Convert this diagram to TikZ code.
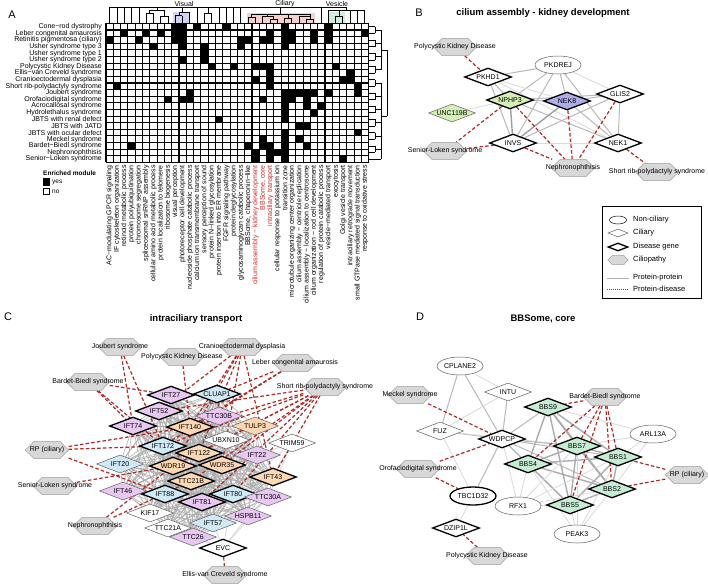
\documentclass[tikz,border=0pt]{standalone}
\usepackage{fontspec}
\setmainfont{Liberation Sans}
\usetikzlibrary{shapes.geometric,backgrounds}
\definecolor{hexfill}{HTML}{D8D8D8}
\definecolor{hexdraw}{HTML}{A0A0A0}
\definecolor{pinkf}{HTML}{E8C8F2}
\definecolor{bluef}{HTML}{CFE9F7}
\definecolor{peachf}{HTML}{FCD7B2}
\definecolor{greenB}{HTML}{D5F0B5}
\definecolor{greenD}{HTML}{C6ECD3}
\definecolor{purpB}{HTML}{ADADEA}
\definecolor{dred}{HTML}{B02A26}
\definecolor{lblred}{HTML}{CC2B27}
\definecolor{boxpurp}{HTML}{D2D2F2}
\definecolor{boxpink}{HTML}{F6D0D0}
\definecolor{boxgreen}{HTML}{CDEEDD}
\tikzset{
 fs/.style={font=\fontsize{7}{8}\selectfont},
 gene/.style={diamond, draw=gray!75!black, line width=0.5pt, fill=white, minimum width=47pt, minimum height=18pt, inner sep=0pt, label={[fs, inner sep=0pt]center:#1}},
 dgene/.style={gene=#1, draw=black, line width=1.3pt},
 nonc/.style={ellipse, draw=gray!75!black, line width=0.5pt, fill=white, minimum width=46pt, minimum height=18pt, inner sep=0pt, fs},
 hexbox/.style={rectangle, minimum width=43pt, minimum height=17pt, inner sep=0pt},
 hexshape/.style={draw=hexdraw, fill=hexfill, line width=0.5pt},
 hl/.style={fs, inner sep=0pt},
 pp/.style={gray!55, line width=1pt},
 ppl/.style={gray!30, line width=0.8pt},
 ppd/.style={gray!75, line width=1.4pt},
 mesh/.style={gray!65, line width=0.7pt, opacity=0.85},
 pd/.style={dred, line width=1.2pt, dash pattern=on 3.5pt off 2.2pt},
 rowlbl/.style={anchor=east, inner sep=0pt, font=\fontsize{7}{8}\selectfont},
 collbl/.style={anchor=east, rotate=90, inner sep=0pt, font=\fontsize{7}{8}\selectfont},
 ttl/.style={font=\fontsize{9.5}{11}\selectfont\bfseries, inner sep=0pt},
 panel/.style={font=\fontsize{11}{13}\selectfont, inner sep=0pt},
 grp/.style={font=\fontsize{7}{8}\selectfont, inner sep=0pt},
 dend/.style={line width=0.6pt, black},
 gridl/.style={line width=1.1pt, black},
 leg/.style={anchor=west, inner sep=0pt, font=\fontsize{7.5}{9}\selectfont},
}
\newcommand{\hexnd}[4]{%
  \node[hexbox] (#1) at (#2,#3) {};
  \path[hexshape] (#1.west) -- ([xshift=9pt]#1.north west) -- ([xshift=-9pt]#1.north east) -- (#1.east)
    -- ([xshift=-9pt]#1.south east) -- ([xshift=9pt]#1.south west) -- cycle;
  \node[hl] (#1-t) at (#1.center) {#4};}
\begin{document}
\begin{tikzpicture}[x=1pt,y=-1pt]
\useasboundingbox (0,0) rectangle (708,584);
\begin{pgfonlayer}{background}
\fill[white] (0,0) rectangle (708,584);
\end{pgfonlayer}
% ================= PANEL A =================
\node[panel] (pA) at (12,15) {A};
\def\Xo{106}\def\Yo{23.4}\def\cw{7.3}\def\rh{6.62}
\fill[boxpurp] (172.5,12) rectangle (190,23.4);
\fill[boxpink] (246.5,12.5) rectangle (315,23.4);
\fill[boxgreen] (328,12) rectangle (344.5,23.4);
\node[grp] (gVis) at (184,4) {Visual};
\node[grp] (gCil) at (285,4) {Ciliary};
\node[grp] (gVes) at (337,4) {Vesicle};
\draw[dend] (109.6,7) -- (346,7);
\foreach \x in {109.6,116.9,124.2,131.5,138.8,197.0,218.8,233.4,240.7,320.8}{\draw[dend] (\x,7) -- (\x,23.4);}
\draw[dend] (157,7) -- (157,10) (149.7,10) -- (164.2,10) (149.7,10) -- (149.7,13) (146,13) -- (153.3,13)
  (146,13) -- (146,23.4) (153.3,13) -- (153.3,23.4) (164.2,10) -- (164.2,16) (160.6,16) -- (167.9,16)
  (160.6,16) -- (160.6,23.4) (167.9,16) -- (167.9,23.4);
\draw[dend] (182,7) -- (182,12) (178.8,12) -- (189.7,12) (189.7,12) -- (189.7,23.4) (178.8,12) -- (178.8,15.5)
  (175.2,15.5) -- (182.4,15.5) (175.2,15.5) -- (175.2,23.4) (182.4,15.5) -- (182.4,23.4);
\draw[dend] (207.9,7) -- (207.9,13) (204.3,13) -- (211.6,13) (204.3,13) -- (204.3,23.4) (211.6,13) -- (211.6,23.4);
\draw[dend] (226.1,7) -- (226.1,23.4);
\draw[dend] (280.7,7) -- (280.7,14) (251.6,14) -- (309.8,14)
  (251.6,14) -- (251.6,17) (248,17) -- (255.2,17) (248,17) -- (248,23.4) (255.2,17) -- (255.2,23.4)
  (267,14) -- (267,16) (262.5,16) -- (273.4,16) (262.5,16) -- (262.5,23.4) (273.4,16) -- (273.4,19)
  (269.8,19) -- (277.1,19) (269.8,19) -- (269.8,23.4) (277.1,19) -- (277.1,23.4)
  (288,14) -- (288,18) (284.4,18) -- (291.6,18) (284.4,18) -- (284.4,23.4) (291.6,18) -- (291.6,23.4)
  (309.8,14) -- (309.8,16) (298.9,16) -- (309.8,16) (298.9,16) -- (298.9,23.4) (309.8,16) -- (309.8,19)
  (306.2,19) -- (313.5,19) (306.2,19) -- (306.2,23.4) (313.5,19) -- (313.5,23.4);
\draw[dend] (346,7) -- (346,10) (328,10) -- (364.4,10) (328,10) -- (328,23.4)
  (339,10) -- (339,16) (335.3,16) -- (342.6,16) (335.3,16) -- (335.3,23.4) (342.6,16) -- (342.6,23.4)
  (349.9,10) -- (349.9,23.4) (357.2,10) -- (357.2,23.4) (364.4,10) -- (364.4,23.4);
\foreach \r/\cl in {1/{10,11,13,17,25,31},2/{3,6,8,10,11,23,25,26,29,31,36},3/{1,5,10,11,19,20,22,23,25,26,29,31},
  4/{7,11,14,19,25},5/{14},6/{11,14},7/{15,18,21,22,23,32},8/{23,34},9/{21,23,33,34},10/{2,23,35},
  11/{12,25,26,27,28,29,31,35},12/{9,11,12,22,25,26,28},13/{25,28,30},14/{25,29},15/{16,25},16/{27,28},
  17/{25,35},18/{22,25,27},19/{4,20,22,23,25,28},20/{21,23,24,25},21/{21,23,25,33}}{
  \foreach \c in \cl {\fill ({\Xo+(\c-1)*\cw},{\Yo+(\r-1)*\rh}) rectangle ++(\cw,\rh);}
}
\foreach \i in {0,...,36}{\draw[gridl] ({\Xo+\i*\cw},\Yo) -- ++(0,{21*\rh});}
\foreach \j in {0,...,21}{\draw[gridl] (\Xo,{\Yo+\j*\rh}) -- ++({36*\cw},0);}
\foreach \j in {1,...,21}{\draw[dend] (369,{\Yo+(\j-0.5)*\rh}) -- (375,{\Yo+(\j-0.5)*\rh});}
\foreach \j in {1,3,...,19}{\draw[dend] (375,{\Yo+(\j-0.5)*\rh}) -- (375,{\Yo+(\j+0.5)*\rh}) (375,{\Yo+\j*\rh}) -- (381,{\Yo+\j*\rh});}
\draw[dend] (375,{\Yo+20.5*\rh}) -- (381,{\Yo+20.5*\rh});
\draw[dend] (381,{\Yo+1*\rh}) -- (381,{\Yo+7*\rh}) (381,{\Yo+9*\rh}) -- (381,{\Yo+20.5*\rh})
  (381,{\Yo+4*\rh}) -- (387,{\Yo+4*\rh}) (381,{\Yo+14*\rh}) -- (387,{\Yo+14*\rh}) (387,{\Yo+4*\rh}) -- (387,{\Yo+14*\rh});
\foreach \t [count=\j] in {Cone−rod dystrophy,Leber congenital amaurosis,Retinitis pigmentosa (ciliary),Usher syndrome type 3,Usher syndrome type 1,Usher syndrome type 2,Polycystic Kidney Disease,Ellis−van Creveld syndrome,Cranioectodermal dysplasia,Short rib-polydactyly syndrome,Joubert syndrome,Orofaciodigital syndrome,Acrocallosal syndrome,Hydrolethalus syndrome,JBTS with renal defect,JBTS with JATD,JBTS with ocular defect,Meckel syndrome,Bardet−Biedl syndrome,Nephronophthisis,Senior−Loken syndrome}{
  \node[rowlbl] (rl\j) at (102,{\Yo+(\j-0.5)*\rh}) {\t};}
\foreach \t [count=\i] in {AC−modulating GPCR signaling,IF cytoskeleton organization,retinoid metabolic process,protein polyubiquitination,chromosome segregation,spliceosomal snRNP assembly,cellular amino acid metabolic process,protein localization to telomere,ribosome biogenesis,visual perception,photoreceptor cell development,nucleoside phosphate catabolic process,calcium ion transmembrane transport,sensory perception of sound,protein N−linked glycosylation,protein insertion into ER membrane,FGFR signaling pathway,protein deglycosylation,glycosaminoglycan catabolic process,{BBSome, chaperonin−like},cilium assembly − kidney development,{BBSome, core},intraciliary transport,cellular response to potassium ion,transition zone,microtubule organizing center organization,cilium assembly − centriole replication,cilium assembly − localization to centrosome,cilium organization − rod cell development,regulation of protein catabolic process,vesicle−mediated transport,exocytosis,Golgi vesicle transport,intraciliary retrograde movement,small GTPase mediated signal transduction,response to oxidative stress}{
  \ifnum\i>20 \ifnum\i<24
    \node[collbl, text=lblred] (cl\i) at ({\Xo+(\i-0.5)*\cw},165) {\t};
  \else \node[collbl] (cl\i) at ({\Xo+(\i-0.5)*\cw},165) {\t}; \fi
  \else \node[collbl] (cl\i) at ({\Xo+(\i-0.5)*\cw},165) {\t}; \fi}
\node[anchor=west, inner sep=0pt, font=\fontsize{6.5}{8}\selectfont\bfseries] (elg) at (43,173) {Enriched module};
\node[draw=black, fill=black, minimum size=6.5pt, inner sep=0pt, line width=0.6pt] (ely) at (46.5,182) {};
\node[anchor=west, inner sep=0pt, font=\fontsize{6.5}{8}\selectfont] (elyt) at (52,182) {yes};
\node[draw=black, fill=white, minimum size=6.5pt, inner sep=0pt, line width=0.6pt] (eln) at (46.5,191.5) {};
\node[anchor=west, inner sep=0pt, font=\fontsize{6.5}{8}\selectfont] (elnt) at (52,191.5) {no};

% ================= PANEL B =================
\node[panel] (pB) at (419,13) {B};
\node[ttl] (tB) at (543,13) {cilium assembly - kidney development};
\hexnd{bpkd}{455}{47}{Polycystic Kidney Disease}
\node[nonc] (bpkdrej) at (558,65) {PKDREJ};
\node[dgene=PKHD1] (bpkhd1) at (488,77) {};
\node[dgene=NPHP3, fill=greenB] (bnphp3) at (510,100) {};
\node[dgene=NEK8, fill=purpB] (bnek8) at (567,101) {};
\node[dgene=GLIS2] (bglis2) at (620,94) {};
\node[gene=UNC119B, fill=greenB] (bunc) at (452,113) {};
\node[dgene=INVS] (binvs) at (513,143) {};
\node[dgene=NEK1] (bnek1) at (618,143) {};
\hexnd{bsls}{445}{151}{Senior-Loken syndrome}
\hexnd{bnph}{573}{168}{Nephronophthisis}
\hexnd{bsrps}{657}{172}{Short rib-polydactyly syndrome}
\begin{pgfonlayer}{background}
\draw[pp] (bpkhd1) -- (bpkdrej);
\draw[pp] (bpkdrej) -- (bnphp3); \draw[pp] (bpkdrej) -- (bnek8); \draw[ppl] (bpkdrej) -- (bglis2);
\draw[pp] (bpkdrej) -- (binvs); \draw[pp] (bpkdrej) -- (bnek1);
\draw[pp] (bpkhd1) -- (bnphp3); \draw[pp] (bpkhd1) -- (binvs); \draw[ppl] (bpkhd1) -- (bnek8); \draw[ppl] (bpkhd1) -- (bnek1);
\draw[ppl] (bnphp3) -- (bunc); \draw[pp] (bnphp3) -- (bnek8); \draw[pp] (bnphp3) -- (bglis2);
\draw[ppd] (bnphp3) -- (binvs); \draw[pp] (bnphp3) -- (bnek1);
\draw[pp] (bnek8) -- (bglis2); \draw[ppd] (bnek8) -- (binvs); \draw[pp] (bnek8) -- (bnek1);
\draw[pp] (bglis2) -- (binvs); \draw[pp] (bglis2) -- (bnek1); \draw[ppl] (binvs) -- (bnek1);
\draw[pd] (bpkd) -- (bpkhd1);
\draw[pd] (bnphp3) -- (bsls); \draw[pd] (binvs) -- (bsls);
\draw[pd] (bnphp3) -- (bnph); \draw[pd] (binvs) -- (bnph); \draw[pd] (bnek8) -- (bnph); \draw[pd] (bglis2) -- (bnph);
\draw[pd] (bnek1) -- (bsrps);
\end{pgfonlayer}
\draw[line width=0.6pt, black] (602,206) rectangle (701,298);
\node[ellipse, draw=black, line width=0.5pt, minimum width=17pt, minimum height=8pt, inner sep=0pt] (lg1) at (618,220) {};
\node[leg] (lg1t) at (633,220) {Non-ciliary};
\node[diamond, draw=gray!75!black, line width=0.5pt, minimum width=20pt, minimum height=8pt, inner sep=0pt] (lg2) at (618,233) {};
\node[leg] (lg2t) at (633,233) {Ciliary};
\node[diamond, draw=black, line width=1.3pt, minimum width=20pt, minimum height=8pt, inner sep=0pt] (lg3) at (618,247) {};
\node[leg] (lg3t) at (633,247) {Disease gene};
\node[rectangle, minimum width=20pt, minimum height=9pt, inner sep=0pt] (lg4) at (618,260) {};
\path[hexshape] (lg4.west) -- ([xshift=4.5pt]lg4.north west) -- ([xshift=-4.5pt]lg4.north east) -- (lg4.east)
  -- ([xshift=-4.5pt]lg4.south east) -- ([xshift=4.5pt]lg4.south west) -- cycle;
\node[leg] (lg4t) at (633,260) {Ciliopathy};
\coordinate (lg5a) at (607,278); \coordinate (lg5b) at (629,278);
\draw[gray!60, line width=1pt] (lg5a) -- (lg5b);
\node[leg] (lg5t) at (633,278) {Protein-protein};
\coordinate (lg6a) at (607,289); \coordinate (lg6b) at (629,289);
\draw[dred, line width=1pt, dash pattern=on 1.2pt off 0.8pt] (lg6a) -- (lg6b);
\node[leg] (lg6t) at (633,289) {Protein-disease};

% ================= PANEL C =================
\node[panel] (pC) at (8,317) {C};
\node[ttl] (tC) at (196,319) {intraciliary transport};
\hexnd{cjou}{120}{347}{Joubert syndrome}
\hexnd{cbbs}{88}{382}{Bardet-Biedl syndrome}
\hexnd{cpkd}{182}{357}{Polycystic Kidney Disease}
\hexnd{ccra}{242}{347}{Cranioectodermal dysplasia}
\hexnd{clca}{295}{363}{Leber congenital amaurosis}
\hexnd{csrps}{325}{387}{Short rib-polydactyly syndrome}
\hexnd{crp}{47}{450}{RP (ciliary)}
\hexnd{csls}{55}{486}{Senior-Loken syndrome}
\hexnd{cnph}{95}{526}{Nephronophthisis}
\hexnd{cevcs}{225}{575}{Ellis-van Creveld syndrome}
\node[dgene=IFT27, fill=pinkf] (c-ift27) at (171,395) {};
\node[dgene=CLUAP1, fill=bluef] (c-cluap1) at (217,394) {};
\node[dgene=IFT52, fill=pinkf] (c-ift52) at (159,411) {};
\node[dgene=IFT74, fill=pinkf] (c-ift74) at (133,426) {};
\node[gene=TTC30B, fill=pinkf] (c-ttc30b) at (219,416) {};
\node[dgene=IFT140, fill=peachf] (c-ift140) at (190,427) {};
\node[gene=TULP3, fill=peachf] (c-tulp3) at (255,426) {};
\node[gene=UBXN10] (c-ubxn10) at (226,440) {};
\node[gene=TRIM59] (c-trim59) at (292,443) {};
\node[dgene=IFT172, fill=bluef] (c-ift172) at (163,446) {};
\node[dgene=IFT122, fill=peachf] (c-ift122) at (199,453) {};
\node[gene=IFT22, fill=pinkf] (c-ift22) at (257,455) {};
\node[gene=IFT20, fill=bluef] (c-ift20) at (120,464) {};
\node[dgene=WDR19, fill=peachf] (c-wdr19) at (173,466) {};
\node[dgene=WDR35, fill=peachf] (c-wdr35) at (222,465) {};
\node[dgene=TTC21B, fill=peachf] (c-ttc21b) at (191,481) {};
\node[dgene=IFT43, fill=peachf] (c-ift43) at (273,477) {};
\node[gene=IFT46, fill=pinkf] (c-ift46) at (123,491) {};
\node[dgene=IFT88, fill=bluef] (c-ift88) at (165,494) {};
\node[dgene=IFT81, fill=pinkf] (c-ift81) at (202,502) {};
\node[dgene=IFT80, fill=bluef] (c-ift80) at (233,494) {};
\node[gene=TTC30A, fill=pinkf] (c-ttc30a) at (268,497) {};
\node[gene=KIF17] (c-kif17) at (150,513) {};
\node[gene=HSPB11, fill=pinkf] (c-hspb11) at (248,516) {};
\node[gene=TTC21A] (c-ttc21a) at (168,528) {};
\node[gene=IFT57, fill=bluef] (c-ift57) at (213,523) {};
\node[gene=TTC26, fill=pinkf] (c-ttc26) at (193,537) {};
\node[dgene=EVC] (c-evc) at (223,548) {};
\begin{pgfonlayer}{background}
\def\meshnodes{ift27,cluap1,ift52,ift74,ttc30b,ift140,tulp3,ubxn10,ift172,ift122,ift22,ift20,wdr19,wdr35,ttc21b,ift43,ift46,ift88,ift81,ift80,ttc30a,kif17,hspb11,ttc21a,ift57,ttc26}
\foreach \a [count=\i] in \meshnodes {\foreach \b [count=\j] in \meshnodes {\ifnum\j>\i \draw[mesh] (c-\a) -- (c-\b);\fi}}
\foreach \b in {ift57,ttc26,hspb11,ift80,ttc30a,ttc21a}{\draw[ppl] (c-evc) -- (c-\b);}
\foreach \b in {ift22,ttc30a,hspb11,ift80,ift43,tulp3}{\draw[ppl] (c-trim59) -- (c-\b);}
\draw[pd] (cjou) -- (c-ift74); \draw[pd] (cjou) -- (c-ift172);
\draw[pd] (cbbs) -- (c-ift27); \draw[pd] (cbbs) -- (c-ift74); \draw[pd] (cbbs) -- (c-ift172);
\draw[pd] (cpkd) -- (c-ift140);
\foreach \b in {ift52,ift140,ift122,wdr19,wdr35,ift43}{\draw[pd] (ccra) -- (c-\b);}
\foreach \b in {ift140,cluap1,ift172}{\draw[pd] (clca) -- (c-\b);}
\foreach \b in {ift52,ift140,ift172,wdr19,wdr35,ift122,ift80,ift81,ift43,ttc21b}{\draw[pd] (csrps) -- (c-\b);}
\draw[pd] (crp) -- (c-ift140); \draw[pd] (crp) -- (c-ift172); \draw[pd] (crp) -- (c-ift88);
\draw[pd] (csls) -- (c-wdr19);
\draw[pd] (cnph) -- (c-wdr19); \draw[pd] (cnph) -- (c-ttc21b);
\draw[pd] (cevcs) -- (c-evc);
\end{pgfonlayer}

% ================= PANEL D =================
\node[panel] (pD) at (420,317) {D};
\node[ttl] (tD) at (543,319) {BBSome, core};
\node[nonc] (d-cplane2) at (460,366) {CPLANE2};
\node[gene=INTU] (d-intu) at (508,392) {};
\hexnd{dmks}{410}{395}{Meckel syndrome}
\node[dgene=BBS9, fill=greenD] (d-bbs9) at (548,407) {};
\hexnd{dbbs}{605}{397}{Bardet-Biedl syndrome}
\node[gene=FUZ] (d-fuz) at (440,431) {};
\node[dgene=WDPCP] (d-wdpcp) at (502,439) {};
\node[nonc] (d-arl13a) at (653,434) {ARL13A};
\node[dgene=BBS7, fill=greenD] (d-bbs7) at (577,446) {};
\node[dgene=BBS1, fill=greenD] (d-bbs1) at (618,457) {};
\node[dgene=BBS4, fill=greenD] (d-bbs4) at (528,464) {};
\hexnd{dofd}{418}{469}{Orofaciodigital syndrome}
\hexnd{drp}{687}{475}{RP (ciliary)}
\node[dgene=BBS2, fill=greenD] (d-bbs2) at (612,489) {};
\node[ellipse, draw=black, line width=1.3pt, fill=white, minimum width=46pt, minimum height=18pt, inner sep=0pt, fs] (d-tbc) at (473,496) {TBC1D32};
\node[nonc] (d-rfx1) at (518,506) {RFX1};
\node[dgene=BBS5, fill=greenD] (d-bbs5) at (570,505) {};
\node[dgene=DZIP1L] (d-dzip) at (456,528) {};
\node[nonc] (d-peak3) at (577,534) {PEAK3};
\hexnd{dpkd}{487}{556}{Polycystic Kidney Disease}
\begin{pgfonlayer}{background}
\draw[pp] (d-cplane2) -- (d-fuz); \draw[pp] (d-cplane2) -- (d-wdpcp); \draw[ppl] (d-cplane2) -- (d-intu);
\draw[pp] (d-intu) -- (d-wdpcp); \draw[ppl] (d-intu) -- (d-fuz);
\draw[pp] (d-fuz) -- (d-wdpcp); \draw[ppl] (d-fuz) -- (d-tbc); \draw[pp] (d-wdpcp) -- (d-tbc);
\draw[ppl] (d-tbc) -- (d-dzip); \draw[ppl] (d-fuz) -- (d-bbs7);
\foreach \b in {bbs4,bbs7,bbs9,bbs1,bbs5,bbs2}{\draw[pp] (d-wdpcp) -- (d-\b);}
\draw[ppl] (d-wdpcp) -- (d-rfx1);
\def\bbsn{bbs9,bbs7,bbs1,bbs4,bbs2,bbs5}
\foreach \a [count=\i] in \bbsn {\foreach \b [count=\j] in \bbsn {\ifnum\j>\i \draw[ppd, gray!65] (d-\a) -- (d-\b);\fi}}
\foreach \b in {bbs1,bbs7,bbs2,bbs9}{\draw[ppl] (d-arl13a) -- (d-\b);}
\foreach \b in {bbs4,bbs5,bbs2,bbs1,bbs7}{\draw[ppl] (d-rfx1) -- (d-\b);}
\foreach \b in {bbs5,bbs2,bbs4,bbs1,bbs7}{\draw[ppl] (d-peak3) -- (d-\b);}
\draw[pd] (dmks) -- (d-wdpcp);
\draw[pd] (dofd) -- (d-wdpcp); \draw[pd] (dofd) -- (d-tbc);
\foreach \b in {bbs9,bbs4,bbs7,bbs1,bbs2,bbs5}{\draw[pd] (dbbs) -- (d-\b);}
\draw[pd] (drp) -- (d-bbs1); \draw[pd] (drp) -- (d-bbs2);
\draw[pd] (dpkd) -- (d-dzip);
\end{pgfonlayer}
\end{tikzpicture}
\end{document}
